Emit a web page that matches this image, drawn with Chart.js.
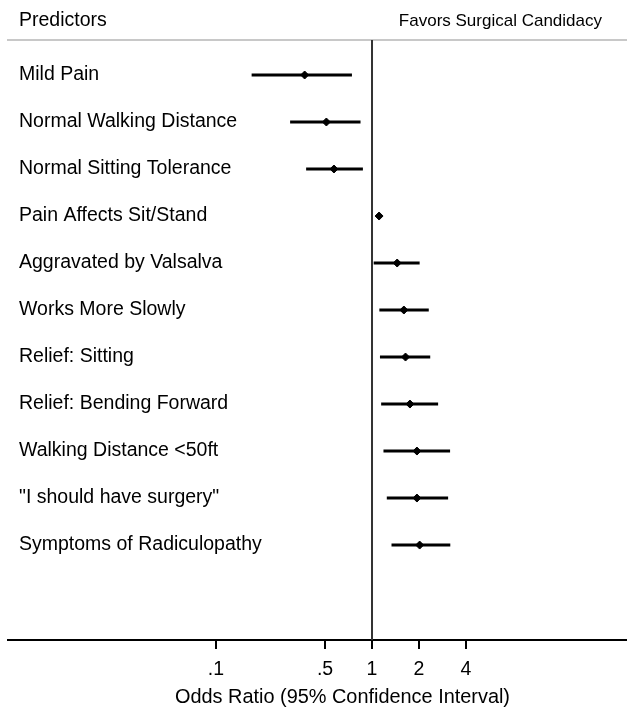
<!DOCTYPE html>
<html>
<head>
<meta charset="utf-8">
<script src="https://cdn.jsdelivr.net/npm/chart.js@4/dist/chart.umd.min.js"></script>
<style>
  html, body { margin: 0; padding: 0; background: #fff; }
  canvas { display: block; }
</style>
</head>
<body>
<canvas id="c" width="627" height="709"></canvas>
<script>
// ---- data ----
const predictors = [
  "Mild Pain",
  "Normal Walking Distance",
  "Normal Sitting Tolerance",
  "Pain Affects Sit/Stand",
  "Aggravated by Valsalva",
  "Works More Slowly",
  "Relief: Sitting",
  "Relief: Bending Forward",
  "Walking Distance <50ft",
  "\"I should have surgery\"",
  "Symptoms of Radiculopathy"
];
const oddsRatio = [0.37, 0.51, 0.57, 1.11, 1.45, 1.60, 1.64, 1.75, 1.94, 1.94, 2.02];
const ciLower   = [0.17, 0.30, 0.38, 1.07, 1.03, 1.12, 1.13, 1.15, 1.19, 1.25, 1.34];
const ciUpper   = [0.74, 0.84, 0.87, 1.15, 2.01, 2.30, 2.35, 2.64, 3.15, 3.06, 3.16];
const xTickValues = [0.1, 0.5, 1, 2, 4];
const xTickLabels = [".1", ".5", "1", "2", "4"];
const referenceValue = 1;
const xMin = 0.004642, xMax = 43.1;
const yMin = 0.2553, yMax = 13.02;
const headerLeft = "Predictors";
const headerRight = "Favors Surgical Candidacy";
const xAxisTitle = "Odds Ratio (95% Confidence Interval)";

const FONT = "'Liberation Sans', Arial, Helvetica, sans-serif";

const rowIndex = predictors.map((_, i) => i + 1);
const barData = rowIndex.map((r, i) => ({ y: r, x: [ciLower[i], ciUpper[i]] }));
const pointData = rowIndex.map((r, i) => ({ y: r, x: oddsRatio[i] }));
const refLineData = [{ x: referenceValue, y: yMin }, { x: referenceValue, y: yMax }];

const headerPlugin = {
  id: 'headers',
  afterDraw(chart) {
    const ctx = chart.ctx;
    ctx.save();
    // tick marks below the x axis, placed by the x scale
    const xs = chart.scales.x;
    ctx.strokeStyle = '#000';
    ctx.lineWidth = 2;
    xTickValues.forEach(v => {
      const px = Math.round(xs.getPixelForValue(v));
      ctx.beginPath();
      ctx.moveTo(px, xs.top);
      ctx.lineTo(px, xs.top + 9);
      ctx.stroke();
    });
    ctx.fillStyle = '#000';
    ctx.textBaseline = 'middle';
    ctx.font = "19.5px " + FONT;
    ctx.textAlign = 'left';
    ctx.fillText(headerLeft, 19, 21);
    ctx.font = "17px " + FONT;
    ctx.textAlign = 'right';
    ctx.fillText(headerRight, 602, 21);
    ctx.font = "19.9px " + FONT;
    ctx.textAlign = 'center';
    ctx.fillText(xAxisTitle, 342.5, 698);
    ctx.restore();
  }
};

new Chart(document.getElementById('c'), {
  type: 'bar',
  data: {
    datasets: [
      {
        type: 'line',
        data: refLineData,
        borderColor: '#333',
        borderWidth: 2,
        pointRadius: 0,
        fill: false,
        clip: 0,
        xAxisID: 'x',
        yAxisID: 'y'
      },
      {
        type: 'bar',
        indexAxis: 'y',
        data: barData,
        backgroundColor: '#000',
        borderWidth: 0,
        barThickness: 2.4,
        xAxisID: 'x',
        yAxisID: 'y'
      },
      {
        type: 'scatter',
        data: pointData,
        pointStyle: 'rectRot',
        radius: 4,
        borderWidth: 1,
        backgroundColor: '#000',
        borderColor: '#000',
        xAxisID: 'x',
        yAxisID: 'y'
      }
    ]
  },
  plugins: [headerPlugin],
  options: {
    indexAxis: 'y',
    responsive: false,
    animation: false,
    devicePixelRatio: 1,
    layout: { autoPadding: false, padding: { left: 8, right: 0, top: 40, bottom: 18 } },
    plugins: { legend: { display: false }, tooltip: { enabled: false }, title: { display: false } },
    scales: {
      x: {
        type: 'logarithmic',
        position: 'bottom',
        offset: false,
        beginAtZero: false,
        min: xMin,
        max: xMax,
        afterBuildTicks: (scale) => { scale.ticks = xTickValues.map(v => ({ value: v })); },
        afterFit: (scale) => { scale.paddingLeft = 0; scale.paddingRight = 0; },
        ticks: {
          autoSkip: false,
          maxRotation: 0,
          padding: 9.3,
          color: '#000',
          font: { family: FONT, size: 19.5, lineHeight: 1.2 },
          callback: (v, i) => xTickLabels[i]
        },
        grid: {
          display: true,
          offset: false,
          drawOnChartArea: false,
          drawTicks: true,
          tickLength: 9,
          tickWidth: 2,
          tickColor: '#000',
          lineWidth: 2,
          color: '#000'
        },
        border: { display: true, color: '#000', width: 2 },
        title: { display: false }
      },
      xTop: {
        type: 'linear',
        position: 'top',
        offset: false,
        min: 0,
        max: 1,
        ticks: { display: false },
        afterFit: (scale) => { scale.paddingLeft = 0; scale.paddingRight = 0; },
        grid: { display: false, drawTicks: false, offset: false },
        border: { display: true, color: '#c8c8c8', width: 2 }
      },
      y: {
        type: 'linear',
        position: 'left',
        offset: false,
        reverse: true,
        min: yMin,
        max: yMax,
        afterBuildTicks: (scale) => { scale.ticks = rowIndex.map(v => ({ value: v })); },
        afterFit: (scale) => { scale.width = 0; scale.paddingTop = 0; scale.paddingBottom = 0; },
        ticks: {
          autoSkip: false,
          mirror: true,
          padding: 11,
          color: '#000',
          font: { family: FONT, size: 19.5 },
          callback: (v) => predictors[v - 1]
        },
        grid: { display: false, drawTicks: false, offset: false },
        border: { display: false }
      }
    }
  }
});
</script>
</body>
</html>
